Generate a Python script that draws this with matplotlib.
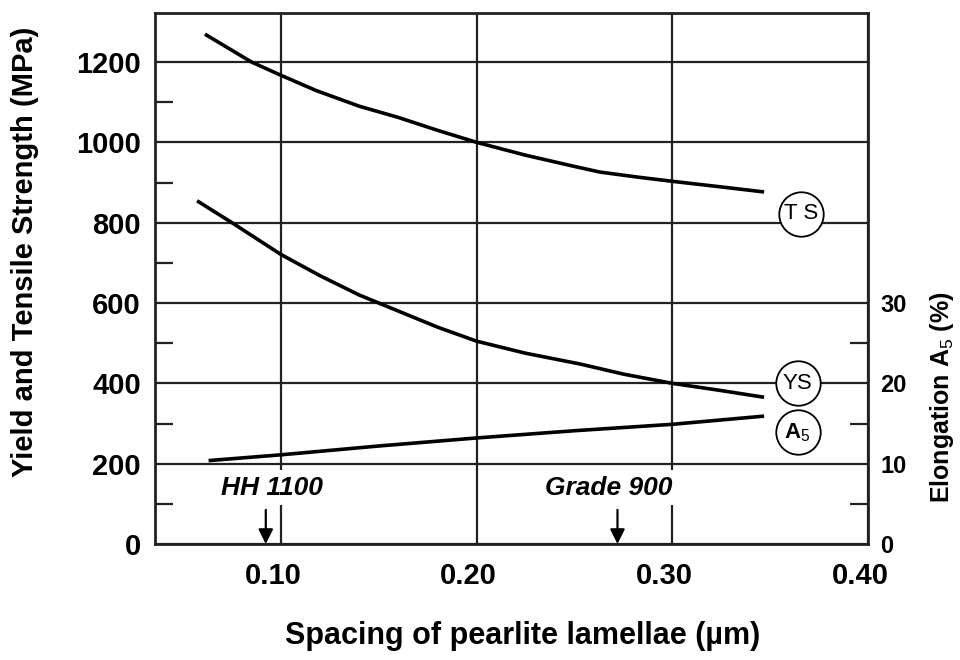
import matplotlib
matplotlib.use("Agg")
import matplotlib.pyplot as plt
from matplotlib.ticker import FixedLocator
from matplotlib.transforms import ScaledTranslation

plt.rcParams['font.family'] = ['Liberation Sans', 'DejaVu Sans']
plt.rcParams['mathtext.fontset'] = 'custom'
plt.rcParams['mathtext.rm'] = 'Liberation Sans'
plt.rcParams['mathtext.bf'] = 'Liberation Sans:bold'
plt.rcParams['mathtext.default'] = 'rm'

# tensile strength (MPa) vs lamellar spacing (um)
ts_x = [0.062, 0.085, 0.100, 0.118, 0.140, 0.160, 0.180, 0.200, 0.225, 0.250,
        0.263, 0.283, 0.300, 0.325, 0.346]
ts_y = [1267, 1200, 1167, 1129, 1090, 1062, 1030, 1000, 968, 940,
        926, 913, 903, 889, 877]

# yield strength (MPa)
ys_x = [0.058, 0.075, 0.100, 0.120, 0.140, 0.160, 0.180, 0.200, 0.225, 0.253,
        0.275, 0.300, 0.325, 0.346]
ys_y = [852, 800, 721, 668, 620, 580, 540, 505, 475, 448,
        423, 400, 382, 366]

# elongation A5 (%)
el_x = [0.064, 0.100, 0.150, 0.200, 0.250, 0.300, 0.346]
el_y = [10.4, 11.1, 12.2, 13.2, 14.1, 14.9, 15.9]

# steel grades marked on the spacing axis
grade_names = ['HH 1100', 'Grade 900']
grade_x = [0.0923, 0.272]

fig = plt.figure(figsize=(9.6, 6.6), dpi=100)
ax = fig.add_axes([155 / 960, 116 / 660, 713 / 960, 531 / 660])
ax.set_xlim(0.0357, 0.40)
ax.set_ylim(0, 1322)

ax.set_xticks([0.10, 0.20, 0.30, 0.40])
ax.set_xticklabels(['0.10', '0.20', '0.30', '0.40'])
ax.set_yticks(range(0, 1201, 200))
ax.yaxis.set_minor_locator(FixedLocator(range(100, 1200, 200)))
ax.set_axisbelow(True)
ax.grid(True, which='major', color='#222222', lw=1.6)
ax.tick_params(which='major', length=0, labelsize=21, pad=10)
ax.tick_params(axis='x', pad=13)
ax.tick_params(which='minor', direction='in', length=13, width=1.6, color='#222222')
for lab in ax.get_xticklabels() + ax.get_yticklabels():
    lab.set_fontweight('bold')
for lab in ax.get_xticklabels():
    lab.set_transform(lab.get_transform() + ScaledTranslation(-8 / 100, 0, fig.dpi_scale_trans))
for sp in ax.spines.values():
    sp.set_linewidth(2)
    sp.set_color('#222222')

ax2 = ax.twinx()
ax2.set_ylim(0, 1322 / 20)
ax2.set_yticks([0, 10, 20, 30])
ax2.yaxis.set_minor_locator(FixedLocator([5, 15, 25]))
ax2.tick_params(which='major', length=0, labelsize=17, pad=9)
ax2.tick_params(which='minor', direction='in', length=13, width=1.6, color='#222222')
for lab in ax2.get_yticklabels():
    lab.set_fontweight('bold')
for sp in ax2.spines.values():
    sp.set_visible(False)

ax.plot(ts_x, ts_y, color='black', lw=2.6, zorder=3)
ax.plot(ys_x, ys_y, color='black', lw=2.6, zorder=3)
ax2.plot(el_x, el_y, color='black', lw=2.6, zorder=3)

# circled curve labels
circ = dict(marker='o', ms=32, mfc='white', mec='black', mew=1.3, ls='none', zorder=4)
ax.plot([0.366], [822], **circ)
ax.text(0.366, 822, 'T S', ha='center', va='center', fontsize=16, zorder=5)
ax.plot([0.364], [400], **circ)
ax.text(0.364, 400, 'YS', ha='center', va='center', fontsize=16, zorder=5)
ax2.plot([0.364], [13.9], **circ)
ax2.text(0.364, 13.9, 'A$_5$', ha='center', va='center', fontsize=16,
         fontweight='bold', zorder=5)

# grade markers with arrows
for name, gx, tx in zip(grade_names, grade_x, [0.0954, 0.2673]):
    ax.text(tx, 140, name, ha='center', va='center', fontsize=19, fontweight='bold',
            fontstyle='italic', zorder=5,
            bbox=dict(boxstyle='square,pad=0.2', fc='white', ec='none'))
    ax.annotate('', xy=(gx, 0), xytext=(gx, 85),
                arrowprops=dict(arrowstyle='-|>', color='black', lw=1.6,
                                mutation_scale=22, shrinkA=0, shrinkB=0),
                zorder=5)

fig.text(523 / 960, 1 - 636 / 660, 'Spacing of pearlite lamellae (µm)',
         ha='center', va='center', fontsize=22, fontweight='bold')
fig.text(25 / 960, 1 - 252 / 660, 'Yield and Tensile Strength (MPa)',
         ha='center', va='center', rotation=90, fontsize=21, fontweight='bold')
fig.text(942 / 960, 1 - 397 / 660, 'Elongation A$_5$ (%)',
         ha='center', va='center', rotation=90, fontsize=18, fontweight='bold')

fig.savefig('out.png', dpi=100, facecolor='white')
